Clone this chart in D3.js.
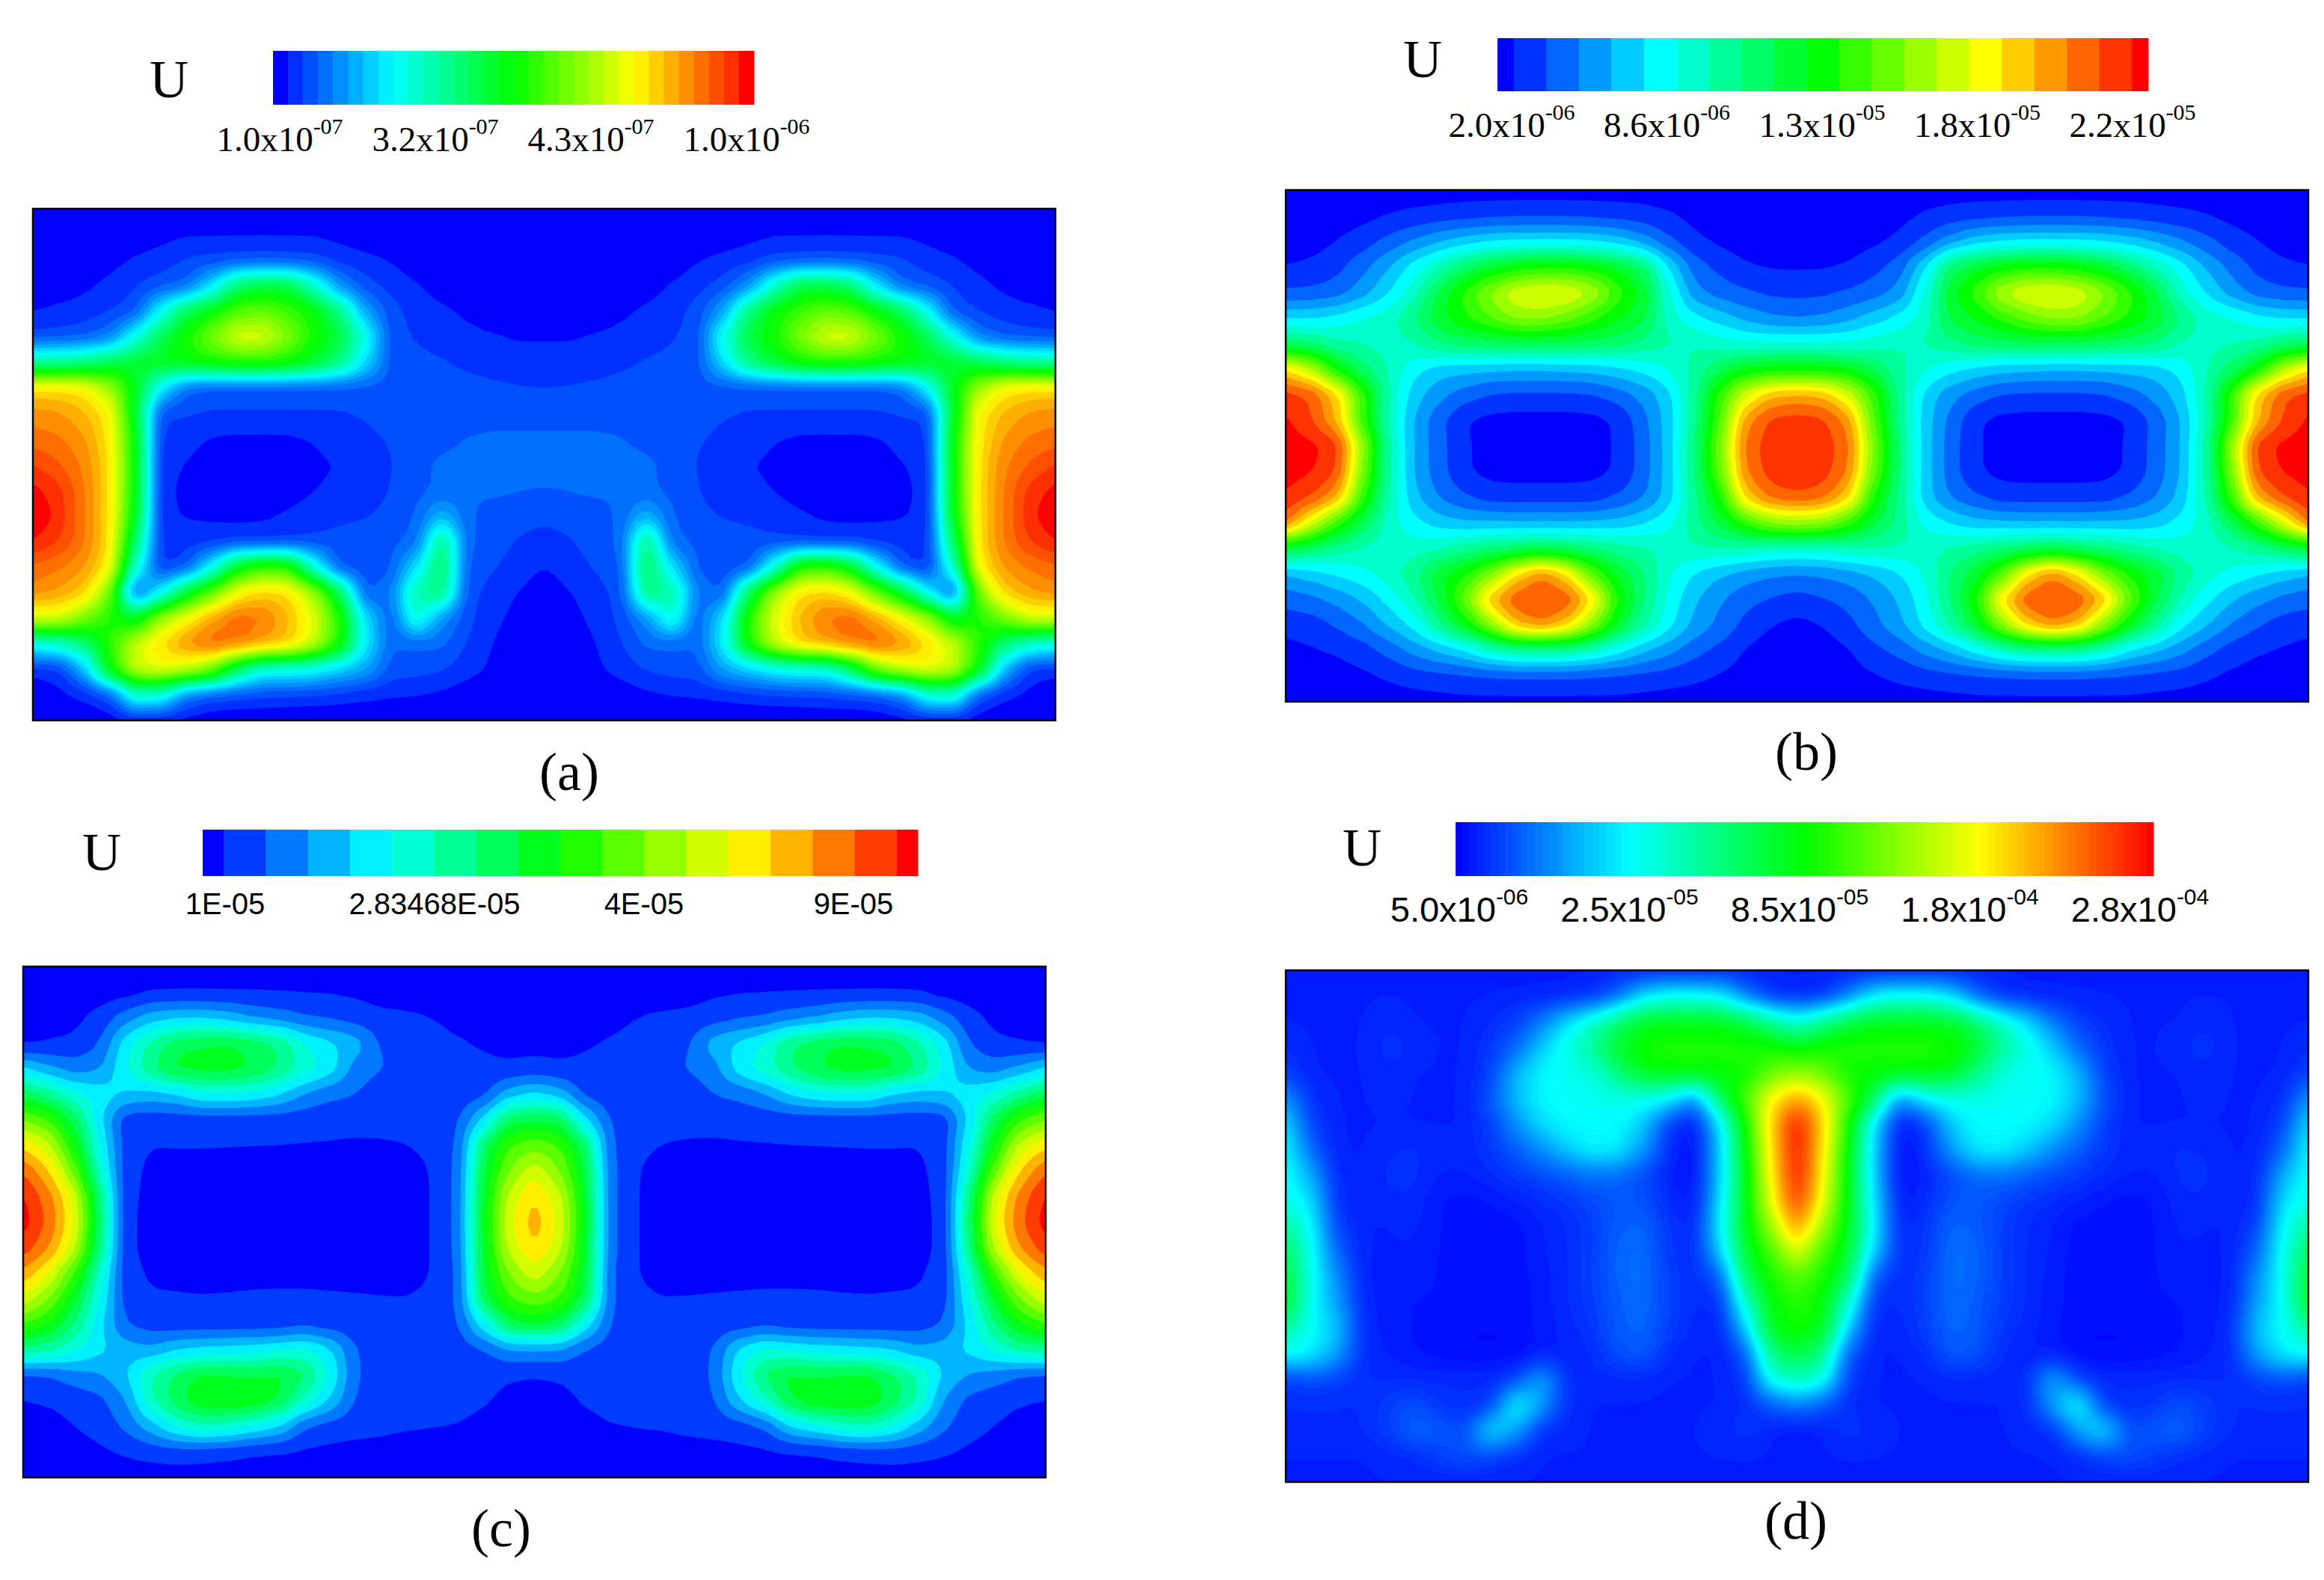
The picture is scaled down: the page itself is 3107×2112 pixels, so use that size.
<!DOCTYPE html>
<html>
<head>
<meta charset="utf-8">
<script src="https://d3js.org/d3.v7.min.js"></script>
<style>
body { margin: 0; background: #fff; }
svg { display: block; }
</style>
</head>
<body>
<div class="svgcontainer"></div>
<script>
var width = 3107;
var height = 2112;

// Every field is mirror symmetric, so each row only lists the left half, up to the centre column.
var fieldA = [
  [0,0,0,0,0,0,0,0,0,0,0,0,0,0,0,0,0,0,0,0,0],
  [0,0,0,0,1,2,2.8,2.8,2.8,2.8,2.8,2.8,2,1,0,0,0,0,0,0,0],
  [0,0,0,2,3.5,4.5,6.5,7,7.5,8,7.5,7,5,4,3,1,0,0,0,0,0],
  [0,1,2.5,4,6,8,10,22,40,44,44,30,14,7.5,5,3.5,1.5,0,0,0,0],
  [3,4,4.5,6,8,26,42,50,58,60,56,50,38,16,7.5,5,3.8,2.5,1,0,0],
  [7,7.5,8.5,12,27,42,52,62,72,72,62,52,44,28,7.5,6,5,4,3.5,3,3],
  [34,35,37,42,46,48,50,52,54,54,52,46,38,22,8,7,6.5,5.5,4.5,4,4],
  [78,78,76,66,48,24,10,8,8,8,8,8,8,8,8,8,8,7.5,7,6.5,6.3],
  [86,85,82,76,46,7,6.5,6,6,6,6,6,6,6.5,8,8,8,8,8,8,8],
  [89,88,85,77,50,5,4,2.8,2.5,2.5,2.6,3.2,5,5.5,6.5,8,8.5,9.5,10,10,10],
  [94,91,87,78,50,4,3,2,1.5,1.5,2,2.5,3.2,5,6,8.5,10,10.5,11,11,11],
  [98,95,88,78,50,4,2.5,2,1,1,2,3,4,5,6.3,8.5,10,9.5,10,9.5,9.2],
  [100,96,88,78,48,4,2.8,2.5,2,2.5,3.5,4.5,5.5,6,7,9.5,18,10,8,7.5,7],
  [97,94,88,78,40,5,5,5,6,5.5,6,7,7.5,8,8.5,10.5,38,9.8,7.5,6,5],
  [90,88,85,76,30,5,8,25,48,56,54,28,8,7.5,8.5,22,42,8.5,6.5,5,3],
  [86,84,80,62,8,24,46,60,75,80,78,66,42,8.5,12,34,38,7.5,5,3,1],
  [72,72,62,52,46,66,75,84,90,88,82,72,54,22,9,30,14,7,4,2,0.5],
  [27,30,38,54,70,78,86,90,88,84,80,70,52,24,9.5,10,10,6,3,1,0],
  [4,5,18,50,70,74,70,62,40,27,27,25,20,16,8,7.5,6.5,4.5,2.5,0,0],
  [1,2,4,8,30,28,12,8,7,6.5,6,5.5,5,4,3.5,3.2,2.5,1,0,0,0],
  [0,0,0,1,2.5,2.5,1.5,0.5,0,0,0,0,0,0,0,0,0,0,0,0,0]
];

var fieldB = [
  [0,0,0,0,0,0,0,0,0,0,0,0,0,0,0,0,0,0,0,0,0],
  [0,0,0,1,2.5,3.5,4.5,5.5,6,6.5,6.5,6.5,6,5.5,4.5,3,1,0,0,0,0],
  [0,0.5,2.5,5,9,13,17,20,22,23,23,23,22,20,15,8.5,3.5,1.5,0,0,0],
  [2.5,3.5,6,11,17,25,32,40,46,50,52,52,50,46,40,22,10,6,3,2,2],
  [8,8.5,10,15,22,30,44,54,64,72,75,74,68,55,46,28,14,10,8,6.5,6],
  [22,22,24,28,30,38,46,52,58,64,64,60,54,48,44,30,24,20,16,13,12],
  [40,38,34,32,31,32,38,40,41,42,42,42,41,40,36,33,32,30,28,28,28],
  [78,68,50,40,32,24,20,19,18,17.5,17.5,18,19,21,24,28,34,42,48,50,50],
  [95,92,80,55,33,20,14,10,7,6.5,6.5,6.5,7,10,14,21,36,55,72,82,84],
  [98.5,93,82,55,32,17,9,2.5,1,0.5,0.5,0.5,1,3,11,20,36,58,86,94,95],
  [100,99,95,65,34,17,9.5,3,1,0,0,0,1,3,10,20,38,62,90,95,96],
  [99.5,98,93,62,34,17,9.5,3,1,0.5,0.5,0.5,1,3,10,20,38,60,88,95,96],
  [97,93,84,55,33,19,12,8,5,5,5,5,5,8,12,20,36,52,80,90,92],
  [90,72,55,42,30,24,20,18,18,17.5,17.5,17.5,18,19,22,26,36,44,55,64,66],
  [44,40,35,32,30,30,32,35,38,40,42,40,38,35,33,31,32,33,32,30,30],
  [17,20,23,26,30,36,46,52,62,78,88,78,58,46,38,28,22,18,15,13,12],
  [9.5,11,14,18,24,32,44,60,82,92,93,92,78,52,38,26,18,13,9,7,5.5],
  [4,5,8,12,18,24,36,48,64,82,88,80,64,46,34,24,16,11,6,2.5,1],
  [1,2,3,5,9,14,18,22,30,34,34,34,30,24,18,14,9,6,2,0,0],
  [0,0,0.5,1.5,3,5,6,6.5,7,7.5,7.5,7.5,7,6.5,6,5,3.5,2,0.5,0,0],
  [0,0,0,0,0,0,0.5,1,1,1,1,1,1,1,0.5,0,0,0,0,0,0]
];

var fieldC = [
  [0,0,0,0,0,0,0,0,0,0,0,0,0,0,0,0,0,0,0,0,0],
  [0,0,0,0,0.5,2.6,2.8,2.8,2.8,2.8,2.7,2.6,2.5,2,0.5,0,0,0,0,0,0],
  [0,0.5,1.5,5,12,18,20,20,18,14,12,9,8,6,4.5,4,3,1.5,0,0,0],
  [1.5,3,4,8.8,24,34,42,44,45,42,38,27,22,18,8,5.5,4.5,3.5,2.5,1.2,1],
  [22,16,12,14,26,38,46,47,47,44,38,30,24,12,9,8.5,5,4.5,4,4,5],
  [42,36,28,24,20,18,20,26,26,25,21,14,10,8.8,5.5,5,5,5,7,18,22],
  [62,56,42,22,5,5,5,5,5,5,5,5,5,5,5,5,5,8,22,42,44],
  [78,70,50,26,6,3,3.2,3.2,3.1,3,2.9,2.7,2.5,2,2.2,2.8,4,9,40,56,60],
  [91,80,60,30,5.5,1.5,1,1,1,1,1,1,1,1,1,1.5,3,10,44,62,72],
  [98,88,72,38,4.5,1.5,0,0,0,0,0,0,0,0,0,1,2.9,10,46,70,80],
  [100,90,74,40,4.5,1,0,0,0,0,0,0,0,0,0,1,2.9,10,47,72,83],
  [95,86,70,38,4.5,1,0,0,0,0,0,0,0,0,0,1,2.9,10,46,70,80],
  [84,74,56,30,5,2.2,1.5,1.5,1.2,1,1,1,1,1,1,1.5,2.9,9,45,62,72],
  [72,62,46,26,6,3.5,3.5,3.2,3.5,4,4.2,4.2,3.8,3.5,3.2,3,4,9,42,56,60],
  [56,50,38,22,8.8,6,5,5,5,5,5.5,7,5.5,5,5,5,5,8,24,42,46],
  [36,34,28,22,18,16,20.6,22,23,24,26,28,22,9,5,5,5,6,8,14,14],
  [7,8,12,14,20,33,40,46,45,44,46,40,26,9.5,5,5,5,5,5,3.5,3],
  [2.8,3.5,5,7,14,32,42,50,50,50,44,30,20,8,5,5,5,4.5,3.5,1.5,0],
  [0,1,2.9,5,10,18,27,32,30,25,20.6,9,6,5,4.5,3.6,3.2,2.8,1.5,0,0],
  [0,0,0.5,2,3.5,5,6,5.5,4.5,3,2.6,2,1.5,1,0.5,0,0,0,0,0,0],
  [0,0,0,0,0,0,0,0,0,0,0,0,0,0,0,0,0,0,0,0,0]
];

var fieldD = [
  [3,3,3,3,3,3,3,3,3,3,3,3,3,3,3,3,3,3,3,3,3],
  [3,3,3,3,3,3,3,3,3,3,3,3,4,10,22,26,26,24,12,4,3],
  [3,3,3,3,4,3,3,3,4,6,12,22,30,40,47,48,48,48,44,36,28],
  [4,3,3,3,5,4,3,3,5,10,20,28,36,47,52,53,53,53,53,52,48],
  [6,3,3,3,4,3,3,3,6,18,25,26,28,38,48,50,50,50,50,60,64],
  [15,4,3,3,3.5,3,3,3,8,19,25,26,26,27,27,24,12,42,58,76,85],
  [22,6,3,3,3,3,3,3,6,14,22,25,25,25,20,5,1.5,22,52,80,100],
  [25,10,3,3,4,4.5,3.5,3.5,5,9,14,20,25,24,15,4,1,20,50,78,100],
  [26,17,3.5,3,4.5,4.5,3,3,4,5.5,7,9,11,10,7,3,1,20,48,76,100],
  [28,22,4,3,4,4,2,1.5,2,3,4,5,7,8.5,8,4,2,22,48,74,96],
  [35,25,6,3,3,3.5,2,1.5,1.5,1.5,3,4,6,9,10,5,3,24,48,65,88],
  [42,26,10,3,3,3,2,1.5,1.5,1.5,3,4,6,10,11,5,4,20,46,56,74],
  [46,26,14,3,2.5,2.5,2,1.5,1.5,1.5,2.5,4,6,10,11,6,4,8,42,52,58],
  [48,25,16,3.5,2.5,2,2,1.5,1.5,1.5,2.5,4,6,9,11,6,4,4,30,50,54],
  [35,25,20,4,2.5,2,1.5,1,1,1,2.5,3.5,5,9,10,6,3.5,3,20,48,52],
  [26,24,16,4,3,2,1.5,1,1,1,2.5,3,4,8,9,4,3,3,8,38,44],
  [5,7,6,4,4,4,4,4,4,6,18,4,3.5,3.5,3.5,3,3,3,5,28,32],
  [4,4,4,4,6,8,5,4,5,28,16,4,3,3,3,3,3,3,4,8,12],
  [4,4,4,4,6,10,9,7,24,16,4,3.5,3,3,3,3,3,4,5,3,1.5],
  [3,3,3,3,3.5,4,6,8,6,4,3,3,3,3,3,3,3,3,3,3,3],
  [3,3,3,3,3,3,3,3,3,3,3,3,3,3,3,3,3,3,3,3,3]
];

var ticksA = ["1.0x10", "3.2x10", "4.3x10", "1.0x10"];
var expsA = ["-07", "-07", "-07", "-06"];
var ticksB = ["2.0x10", "8.6x10", "1.3x10", "1.8x10", "2.2x10"];
var expsB = ["-06", "-06", "-05", "-05", "-05"];
var ticksC = ["1E-05", "2.83468E-05", "4E-05", "9E-05"];
var expsC = ["", "", "", ""];
var ticksD = ["5.0x10", "2.5x10", "8.5x10", "1.8x10", "2.8x10"];
var expsD = ["-06", "-05", "-05", "-04", "-04"];

var serif = "'Liberation Serif', serif";
var sans = "'Liberation Sans', sans-serif";

var pad = 3;    // border cells repeated past the frame
var fine = 4;   // contour cells per read cell

var svg = d3.select(".svgcontainer")
    .append("svg")
    .attr("width", width)
    .attr("height", height);

var rainbow = d3.scaleLinear()
    .domain([0, 25, 50, 75, 100])
    .range(["#0000ff", "#00ffff", "#00ff00", "#ffff00", "#ff0000"]);

// Band edges on the colour bar. Tecplot style bars have half width bands at both ends
var makeEdges = function(count, halfEnds) {
    var step = 100 / count;
    var edges = [0];
    for (var k = 1; k < (halfEnds ? count + 1 : count); k++) {
        edges.push(halfEnds ? (k - 0.5) * step : k * step);
    }
    edges.push(100);
    return edges;
};

var bandColor = function(edges, i) {
    if (i == 0) return rainbow(0);
    if (i == edges.length - 2) return rainbow(100);
    return rainbow((edges[i] + edges[i + 1]) / 2);
};

var drawPanel = function(p, index) {
    // mirror the half rows, repeat border values, then soften the read cells so the contours come out round
    var rows = p.field.map(function(r) { return r.concat(r.slice(0, -1).reverse()); });
    var ny = rows.length;
    var nx = rows[0].length;
    var w = (nx + 2 * pad) * fine;
    var h = (ny + 2 * pad) * fine;
    var grid = new Float64Array(w * h);
    for (var j = 0; j < h; j++) {
        var rj = Math.max(0, Math.min(ny - 1, Math.floor(j / fine) - pad));
        for (var i = 0; i < w; i++) {
            var ri = Math.max(0, Math.min(nx - 1, Math.floor(i / fine) - pad));
            grid[j * w + i] = rows[rj][ri];
        }
    }
    d3.blur2({data: grid, width: w, height: h}, p.blur);

    var x = d3.scaleLinear().domain([(pad + 0.5) * fine, (nx - 1 + pad + 0.5) * fine]).range([p.x0, p.x1]);
    var y = d3.scaleLinear().domain([(pad + 0.5) * fine, (ny - 1 + pad + 0.5) * fine]).range([p.y0, p.y1]);

    var edges = makeEdges(p.levels, p.halfEnds);
    var contours = d3.contours()
        .size([w, h])
        .thresholds(edges.slice(1, -1))(Array.from(grid));

    var outline = d3.line();
    var toPath = function(c) {
        var d = "";
        c.coordinates.forEach(function(poly) {
            poly.forEach(function(ring) {
                d += outline(ring.map(function(pt) { return [x(pt[0]), y(pt[1])]; })) + "Z";
            });
        });
        return d;
    };

    svg.append("clipPath")
        .attr("id", "clip" + index)
        .append("rect")
        .attr("x", p.x0).attr("y", p.y0)
        .attr("width", p.x1 - p.x0).attr("height", p.y1 - p.y0);

    var g = svg.append("g").attr("clip-path", "url(#clip" + index + ")");

    g.append("rect")
        .attr("x", p.x0).attr("y", p.y0)
        .attr("width", p.x1 - p.x0).attr("height", p.y1 - p.y0)
        .attr("fill", bandColor(edges, 0));

    g.selectAll("path")
        .data(contours)
        .enter()
        .append("path")
        .attr("d", toPath)
        .attr("fill-rule", "evenodd")
        .attr("fill", function(d, i) { return bandColor(edges, i + 1); });

    svg.append("rect")
        .attr("x", p.x0).attr("y", p.y0)
        .attr("width", p.x1 - p.x0).attr("height", p.y1 - p.y0)
        .attr("fill", "none")
        .attr("stroke", "#000")
        .attr("stroke-width", 2.5);

    // colour bar
    var barX = d3.scaleLinear().domain([0, 100]).range([p.barX0, p.barX1]);
    svg.append("g").selectAll("rect")
        .data(d3.pairs(edges))
        .enter()
        .append("rect")
        .attr("x", function(d) { return barX(d[0]); })
        .attr("y", p.barY0)
        .attr("width", function(d) { return barX(d[1]) - barX(d[0]) + 0.5; })
        .attr("height", p.barY1 - p.barY0)
        .attr("fill", function(d, i) { return bandColor(edges, i); });

    var tickX = d3.scalePoint().domain(d3.range(p.ticks.length)).range(p.tickRange);
    var labels = svg.append("g").selectAll("text")
        .data(p.ticks)
        .enter()
        .append("text")
        .attr("x", function(d, i) { return tickX(i); })
        .attr("y", p.tickY)
        .attr("text-anchor", "middle")
        .attr("font-family", p.tickFont)
        .attr("font-size", p.tickSize)
        .attr("fill", "#000");
    labels.append("tspan").text(function(d) { return d; });
    labels.append("tspan")
        .attr("dy", -23)
        .attr("font-size", 30)
        .text(function(d, i) { return p.exps[i]; });

    svg.append("text")
        .attr("x", p.uX)
        .attr("y", p.uY)
        .attr("font-family", serif)
        .attr("font-size", 72)
        .attr("fill", "#000")
        .text("U");

    svg.append("text")
        .attr("x", p.capX)
        .attr("y", p.capY)
        .attr("text-anchor", "middle")
        .attr("font-family", serif)
        .attr("font-size", 72)
        .attr("fill", "#000")
        .text(p.caption);
};

var panels = [
    {field: fieldA, levels: 32, halfEnds: false, blur: 1, x0: 44, x1: 1411, y0: 279, y1: 963,
     barX0: 365, barX1: 1008, barY0: 68, barY1: 140, ticks: ticksA, exps: expsA,
     tickRange: [374, 998], tickY: 202, tickFont: serif, tickSize: 47,
     uX: 200, uY: 130, capX: 761, capY: 1056, caption: "(a)"},
    {field: fieldB, levels: 20, halfEnds: true, blur: 1, x0: 1719, x1: 3086, y0: 254, y1: 938,
     barX0: 2002, barX1: 2872, barY0: 51, barY1: 122, ticks: ticksB, exps: expsB,
     tickRange: [2021, 2851], tickY: 183, tickFont: serif, tickSize: 47,
     uX: 1876, uY: 103, capX: 2415, capY: 1029, caption: "(b)"},
    {field: fieldC, levels: 17, halfEnds: true, blur: 1, x0: 31, x1: 1398, y0: 1292, y1: 1975,
     barX0: 271, barX1: 1227, barY0: 1109, barY1: 1171, ticks: ticksC, exps: expsC,
     tickRange: [301, 1141], tickY: 1222, tickFont: sans, tickSize: 40,
     uX: 110, uY: 1163, capX: 670, capY: 2067, caption: "(c)"},
    {field: fieldD, levels: 97, halfEnds: false, blur: 1.2, x0: 1719, x1: 3086, y0: 1297, y1: 1981,
     barX0: 1946, barX1: 2879, barY0: 1099, barY1: 1171, ticks: ticksD, exps: expsD,
     tickRange: [1951, 2861], tickY: 1232, tickFont: sans, tickSize: 47,
     uX: 1795, uY: 1157, capX: 2401, capY: 2057, caption: "(d)"}
];

panels.forEach(drawPanel);
</script>
</body>
</html>
